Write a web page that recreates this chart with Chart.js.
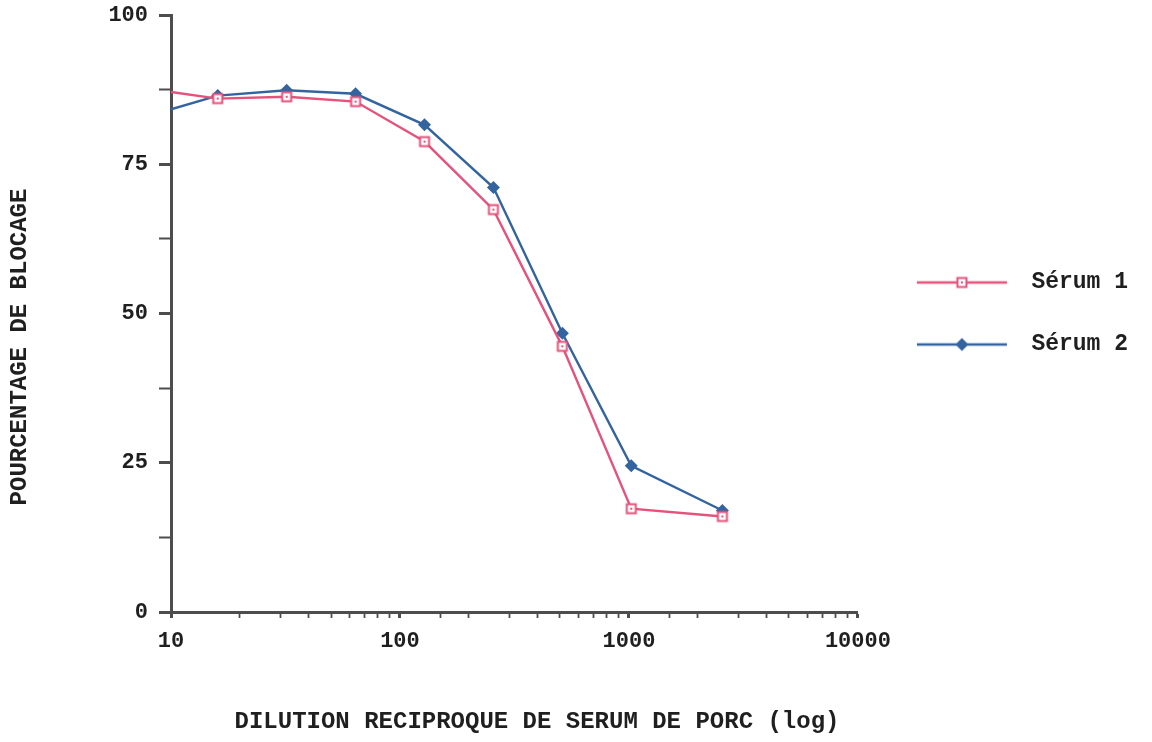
<!DOCTYPE html>
<html>
<head>
<meta charset="utf-8">
<script src="https://cdn.jsdelivr.net/npm/chart.js@4/dist/chart.umd.min.js"></script>
<style>
    html, body { margin: 0; padding: 0; background: #fff; }
    #wrap { width: 1152px; height: 742px; }
</style>
</head>
<body>
<div id="wrap"><canvas id="blocageChart"></canvas></div>
<script>
// Dilutions (reciprocal) and blocking percentages
const dilutions = [10, 16, 32, 64, 128, 256, 512, 1024, 2560];
const serum1 = [87.1, 86.0, 86.3, 85.5, 78.8, 67.4, 44.5, 17.3, 16.0];
const serum2 = [84.2, 86.5, 87.4, 86.8, 81.6, 71.1, 46.7, 24.5, 17.0];
const seriesNames = ['Sérum 1', 'Sérum 2'];
const xTickLabels = [10, 100, 1000, 10000];
const yTickLabels = [0, 25, 50, 75, 100];
const xTitle = 'DILUTION RECIPROQUE DE SERUM DE PORC (log)';
const yTitle = 'POURCENTAGE DE BLOCAGE';

const pink = '#e5527c';
const blue = '#34649f';
const axisColor = '#4d4d4d';
const textColor = '#1f1f1f';
const monoFont = '"Liberation Mono", "Courier New", monospace';

// hollow square with a dot in the middle
function squareMarker(g, cx, cy) {
    g.fillStyle = '#fff';
    g.fillRect(cx - 4.5, cy - 4.5, 9, 9);
    g.strokeStyle = pink;
    g.lineWidth = 2;
    g.strokeRect(cx - 4.5, cy - 4.5, 9, 9);
    g.fillStyle = pink;
    g.fillRect(cx - 1, cy - 1, 2, 2);
}

function diamondMarker(g, cx, cy) {
    g.fillStyle = blue;
    g.beginPath();
    g.moveTo(cx, cy - 6.5);
    g.lineTo(cx + 6.5, cy);
    g.lineTo(cx, cy + 6.5);
    g.lineTo(cx - 6.5, cy);
    g.closePath();
    g.fill();
}

function markerCanvas(drawMarker) {
    const c = document.createElement('canvas');
    c.width = 16; c.height = 16;
    drawMarker(c.getContext('2d'), 8, 8);
    return c;
}

// legend sample: line with the marker in the middle
function legendSample(color, drawMarker) {
    const c = document.createElement('canvas');
    c.width = 123; c.height = 16;
    const g = c.getContext('2d');
    g.strokeStyle = color;
    g.lineWidth = 2.4;
    g.beginPath();
    g.moveTo(20, 8);
    g.lineTo(110, 8);
    g.stroke();
    drawMarker(g, 65, 8);
    return c;
}

const squareImg = markerCanvas(squareMarker);
const samples = [legendSample(pink, squareMarker), legendSample(blue, diamondMarker)];

const isDecade = v => Math.abs(Math.log10(v) - Math.round(Math.log10(v))) < 1e-9;

const axisCaptions = {
    id: 'axisCaptions',
    afterDraw(chart) {
        const ctx = chart.ctx;
        ctx.save();
        ctx.font = 'bold 24px ' + monoFont;
        ctx.fillStyle = textColor;
        ctx.textAlign = 'center';
        ctx.textBaseline = 'middle';
        ctx.fillText(xTitle, 537, 722);
        ctx.translate(20, 347);
        ctx.rotate(-Math.PI / 2);
        ctx.fillText(yTitle, 0, 0);
        ctx.restore();
    }
};

new Chart(document.getElementById('blocageChart'), {
    type: 'line',
    data: {
        datasets: [{
            label: seriesNames[0],
            data: dilutions.map((d, i) => ({ x: d, y: serum1[i] })),
            borderColor: pink,
            backgroundColor: pink,
            borderWidth: 2.4,
            pointStyle: squareImg,
            pointRadius: dilutions.map((d, i) => i === 0 ? 0 : 5),
            tension: 0
        }, {
            label: seriesNames[1],
            data: dilutions.map((d, i) => ({ x: d, y: serum2[i] })),
            borderColor: blue,
            backgroundColor: blue,
            borderWidth: 2.4,
            pointStyle: 'rectRot',
            pointRadius: dilutions.map((d, i) => i === 0 ? 0 : 6.5),
            pointBorderWidth: 0,
            tension: 0
        }]
    },
    options: {
        responsive: true,
        maintainAspectRatio: false,
        animation: false,
        layout: { padding: { top: 15, right: 14, bottom: 0, left: 0 } },
        plugins: {
            legend: {
                position: 'right',
                fullSize: false,
                align: 'center',
                labels: {
                    usePointStyle: true,
                    pointStyleWidth: 123,
                    padding: 39,
                    color: textColor,
                    font: { family: monoFont, size: 23, weight: 'bold' },
                    generateLabels: chart => chart.data.datasets.map((ds, i) => ({
                        text: ds.label,
                        datasetIndex: i,
                        pointStyle: samples[i],
                        fillStyle: ds.borderColor,
                        strokeStyle: ds.borderColor,
                        lineWidth: 0,
                        fontColor: textColor,
                        hidden: !chart.isDatasetVisible(i)
                    }))
                }
            },
            tooltip: { enabled: false }
        },
        scales: {
            x: {
                type: 'logarithmic',
                min: xTickLabels[0],
                max: xTickLabels[xTickLabels.length - 1],
                afterFit: scale => {
                    scale.height = 130;
                    scale.paddingLeft = 0;
                    scale.paddingRight = 0;
                },
                border: { color: axisColor, width: 3 },
                grid: {
                    drawOnChartArea: false,
                    tickLength: 6,
                    tickColor: axisColor,
                    tickWidth: c => isDecade(c.tick.value) ? 3 : 1.8
                },
                ticks: {
                    autoSkip: false,
                    maxRotation: 0,
                    padding: 10,
                    color: textColor,
                    font: { family: monoFont, size: 22, weight: 'bold' },
                    callback: v => xTickLabels.includes(v) ? String(v) : ''
                }
            },
            y: {
                min: yTickLabels[0],
                max: yTickLabels[yTickLabels.length - 1],
                afterFit: scale => {
                    scale.width = 171;
                    scale.paddingTop = 0;
                    scale.paddingBottom = 0;
                },
                border: { color: axisColor, width: 3 },
                grid: {
                    drawOnChartArea: false,
                    tickLength: 12,
                    tickColor: axisColor,
                    tickWidth: c => yTickLabels.includes(c.tick.value) ? 3 : 2
                },
                ticks: {
                    stepSize: 12.5,
                    padding: 11,
                    color: textColor,
                    font: { family: monoFont, size: 22, weight: 'bold' },
                    callback: v => yTickLabels.includes(v) ? String(v) : ''
                }
            }
        }
    },
    plugins: [axisCaptions]
});
</script>
</body>
</html>
